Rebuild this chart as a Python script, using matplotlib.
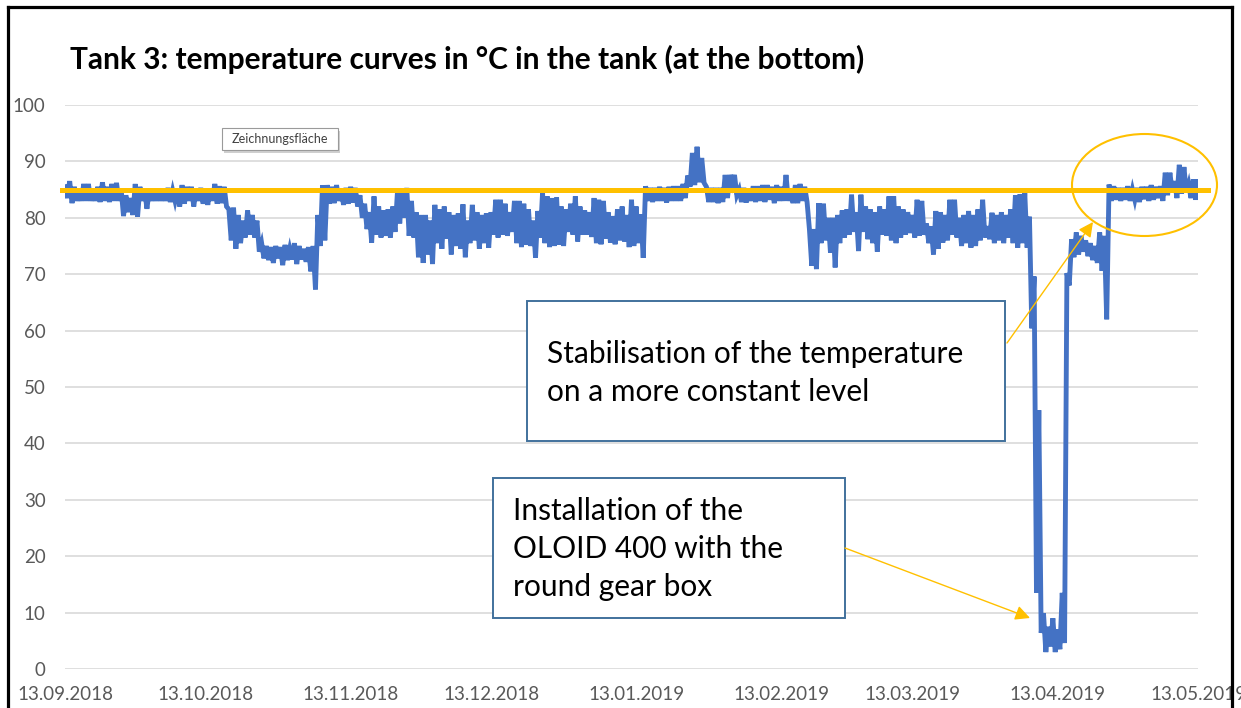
import numpy as np
import pandas as pd
import matplotlib
matplotlib.use("Agg")
import matplotlib.pyplot as plt
import matplotlib.dates as mdates
from matplotlib.patches import Rectangle, Ellipse, FancyArrowPatch
from matplotlib.lines import Line2D

plt.rcParams['font.family'] = ['Lato', 'DejaVu Sans']

W, H = 1241, 708

# first day of the record
start_date = "2018-09-13"

# daily maximum / minimum of the bottom temperature in °C
temp_hi = [
    85.5, 86.5, 85.5, 85, 86, 86, 85, 85.5, 86.3, 85.5,
    86, 86.2, 85, 84, 83.5, 86, 85.5, 85, 85, 85,
    85.2, 85, 85.3, 84.8, 85, 85.8, 85.5, 85.5, 85, 85.3,
    85, 85.2, 86, 85.6, 85.5, 81.5, 81.8, 80.5, 79.5, 81.3,
    80.5, 79.5, 75.5, 75, 74.8, 75, 74.8, 75.2, 74.5, 75.5,
    75, 74.5, 74.8, 75, 80.5, 85.8, 85.8, 85.5, 85.8, 84.8,
    85.3, 85.5, 85.3, 84, 82.5, 81, 83.8, 82, 81.3, 81.5,
    82, 84.5, 85, 85.3, 83, 81, 80.5, 80.5, 79.5, 82.3,
    81.5, 82, 81, 80.5, 80.8, 82.4, 79.5, 82.3, 81, 80.5,
    80.8, 81, 83.2, 83.2, 82.5, 81, 83, 83, 82.5, 81.5,
    79.5, 81.2, 84.4, 83.8, 83.5, 83.6, 82, 81.5, 82.5, 83.8,
    82, 81.3, 81, 83.5, 83.2, 83, 81, 80.3, 81.5, 82,
    80.5, 83.2, 82, 80.6, 85.6, 85.3, 85.3, 85.5, 85.3, 85.5,
    85.6, 85.6, 86, 87.5, 91.5, 92.6, 90.6, 85.5, 85.3, 85.3,
    85.3, 87.6, 87.6, 87.6, 85, 85.3, 85, 85.6, 85.6, 85.8,
    85.8, 85.5, 85.8, 85.5, 87.6, 85.2, 85.8, 86, 85.5, 78,
    78, 82.6, 82.5, 80, 80, 80.5, 81.3, 81.5, 84.1, 81,
    84.1, 82, 81.5, 81, 82, 81.5, 83.8, 83.8, 82, 81.5,
    81, 80.5, 83.2, 83, 79, 78.5, 81.2, 81, 80.5, 83.2,
    83.2, 80, 80.5, 81.2, 80.5, 81.5, 83.2, 78.5, 80.9, 80.5,
    81, 80.5, 81.5, 84, 84.2, 84.4, 80.2, 69.6, 45.9, 9.9,
    7.5, 9, 7, 13.5, 70.2, 76.2, 77.4, 76.8, 76, 75.5,
    75, 77.4, 76.8, 85.9, 85.6, 85.3, 85.3, 85.6, 85, 85.3,
    85.5, 85.5, 85.8, 85.5, 85.6, 88, 88, 86.5, 89.4, 89,
    86, 86.8, 86.8,
]
temp_lo = [
    83.5, 82.6, 83, 83, 83, 83, 83, 82.8, 83, 82.8,
    83, 83, 80.3, 81, 80.5, 80.2, 83, 81.6, 83, 83,
    83, 83, 82.8, 83, 82, 82.5, 83, 82, 83, 82.5,
    82.3, 83, 82.5, 82.6, 82, 76, 74.5, 75.5, 76.5, 77,
    76.5, 74, 72.8, 72.5, 72, 72.8, 71.6, 72.5, 72.6, 71.8,
    72.6, 72.2, 70.5, 67.3, 75, 76, 82.5, 82.6, 83, 82.3,
    82.5, 82.7, 82, 80, 78, 75.6, 77, 76.5, 76.8, 76.5,
    77.5, 79, 80, 76.8, 76.5, 73, 72, 73.5, 71.8, 75.5,
    74.5, 76.3, 73.5, 75, 74.5, 73, 75.5, 76, 74.5, 75.5,
    74.7, 77, 76.5, 77, 76.8, 77.5, 75.5, 74.8, 75.2, 75,
    72.9, 76.5, 75.5, 74.8, 75, 75.2, 75, 77.5, 77, 75.8,
    77, 77, 76.6, 75.5, 75.3, 76.3, 75.6, 75.3, 76, 75.8,
    74.8, 75, 75.5, 72.9, 83, 82.8, 83, 83, 82.7, 83,
    83, 83, 83.5, 85.5, 85.8, 86.3, 86.2, 82.8, 82.8, 82.6,
    82.8, 83.5, 86, 84, 82.8, 82.7, 83, 82.8, 83, 82.8,
    83.2, 82.6, 83, 83, 83, 82.6, 82.6, 83, 82.8, 71.5,
    70.9, 75.5, 76, 73.8, 71.2, 75.5, 76.5, 77, 77.5, 74.1,
    77.5, 76.2, 75.5, 74, 77, 76.8, 76, 75.5, 76.5, 77,
    77.3, 76.5, 76.8, 77, 75.5, 73.5, 74.5, 75.6, 76, 77,
    76.5, 75, 75.5, 74.7, 75, 76, 76.5, 76.2, 75.5, 76,
    75.5, 76.5, 75.5, 74.7, 75.5, 74.7, 60.4, 13.5, 6.4, 3,
    4, 3, 3.5, 4.6, 68, 73, 73.5, 74, 73.2, 72.5,
    72, 70.6, 62, 83, 83.2, 83, 83.2, 83, 83.2, 82.8,
    83.3, 83, 83.2, 83.5, 83, 84, 84.5, 83.5, 84.3, 84.5,
    83.5, 83.2, 84,
]

ref_level = 85
tick_dates = ["2018-09-13", "2018-10-13", "2018-11-13", "2018-12-13",
              "2019-01-13", "2019-02-13", "2019-03-13", "2019-04-13",
              "2019-05-13"]
y_ticks = [0, 10, 20, 30, 40, 50, 60, 70, 80, 90, 100]

title = "Tank 3: temperature curves in °C in the tank (at the bottom)"
note_top = "Stabilisation of the temperature\non a more constant level"
note_bottom = "Installation of the\nOLOID 400 with the\nround gear box"

BLUE = "#4472C4"
ORANGE = "#FFC000"
BOX_EDGE = "#41719C"
GRID = "#D9D9D9"
TICK = "#595959"


def fx(px):
    return px / W


def fy(py):
    return 1 - py / H


# series: per day the max and then the min
t0 = mdates.date2num(pd.Timestamp(start_date))
xs, ys = [], []
for i, (hi, lo) in enumerate(zip(temp_hi, temp_lo)):
    xs += [t0 + i, t0 + i + 0.5]
    ys += [hi, lo]

fig = plt.figure(figsize=(W / 100, H / 100), dpi=100)
ax = fig.add_axes([fx(65), fy(669), fx(1198) - fx(65), fy(105) - fy(669)])

ax.plot(xs, ys, color=BLUE, lw=3.5, solid_joinstyle='miter', zorder=3)

ticks = [mdates.date2num(pd.Timestamp(d)) for d in tick_dates]
ax.set_xlim(ticks[0], ticks[-1])
ax.set_ylim(0, 100)
ax.set_xticks(ticks)
ax.xaxis.set_major_formatter(mdates.DateFormatter("%d.%m.%Y"))
ax.set_yticks(y_ticks)
ax.tick_params(length=0, labelsize=13.5, colors=TICK)
ax.tick_params(axis='y', pad=14)
ax.tick_params(axis='x', pad=12)
ax.grid(axis='y', color=GRID, lw=1.2)
ax.set_axisbelow(True)
for s in ax.spines.values():
    s.set_visible(False)

# reference level line (drawn slightly past the plot area)
ax.plot([ticks[0] - 0.7, ticks[-1] + 2.2], [ref_level, ref_level],
        color=ORANGE, lw=3.6, clip_on=False, zorder=4)

fig.text(fx(70), fy(59), title, fontsize=21.5, fontweight='bold',
         va='center', ha='left', color='black')

# "Zeichnungsfläche" tooltip
fig.add_artist(Rectangle((fx(224), fy(153)), fx(116), fy(0) - fy(22),
                         transform=fig.transFigure, fc='#CFCFCF', ec='none'))
fig.add_artist(Rectangle((fx(222), fy(150)), fx(116), fy(0) - fy(22),
                         transform=fig.transFigure, fc='white', ec='#9A9A9A', lw=0.8))
fig.text(fx(280), fy(139), "Zeichnungsfläche", fontsize=9, color='#404040',
         ha='center', va='center')

# annotation boxes
fig.add_artist(Rectangle((fx(527), fy(441)), fx(1005) - fx(527), fy(301) - fy(441),
                         transform=fig.transFigure, fc='white', ec=BOX_EDGE, lw=1.4, zorder=5))
fig.text(fx(547), fy(373), note_top, fontsize=21.5, ha='left', va='center',
         linespacing=1.42, zorder=6)

fig.add_artist(Rectangle((fx(493), fy(618)), fx(845) - fx(493), fy(478) - fy(618),
                         transform=fig.transFigure, fc='white', ec=BOX_EDGE, lw=1.4, zorder=5))
fig.text(fx(513), fy(549), note_bottom, fontsize=21.5, ha='left', va='center',
         linespacing=1.42, zorder=6)

# arrows
for (x0, y0), (x1, y1) in [((1007, 343), (1093, 222)), ((845, 548), (1030, 618))]:
    fig.add_artist(FancyArrowPatch((fx(x0), fy(y0)), (fx(x1), fy(y1)),
                                   transform=fig.transFigure, arrowstyle='-|>',
                                   mutation_scale=22, color=ORANGE, lw=1.0,
                                   shrinkA=0, shrinkB=0, zorder=7))

# highlight ellipse
fig.add_artist(Ellipse((fx(1144.5), fy(185)), fx(145), fy(0) - fy(102),
                       transform=fig.transFigure, fill=False, ec=ORANGE, lw=1.5, zorder=7))

# black frame of the screenshot
for xa, ya in [([7.5, 7.5], [6.5, H]), ([7.5, 1231.5], [6.5, 6.5]), ([1231.5, 1231.5], [6.5, H])]:
    fig.add_artist(Line2D([fx(v) for v in xa], [fy(v) for v in ya],
                          transform=fig.transFigure, color='black', lw=2.3, zorder=10))

fig.savefig("out.png", dpi=100)
